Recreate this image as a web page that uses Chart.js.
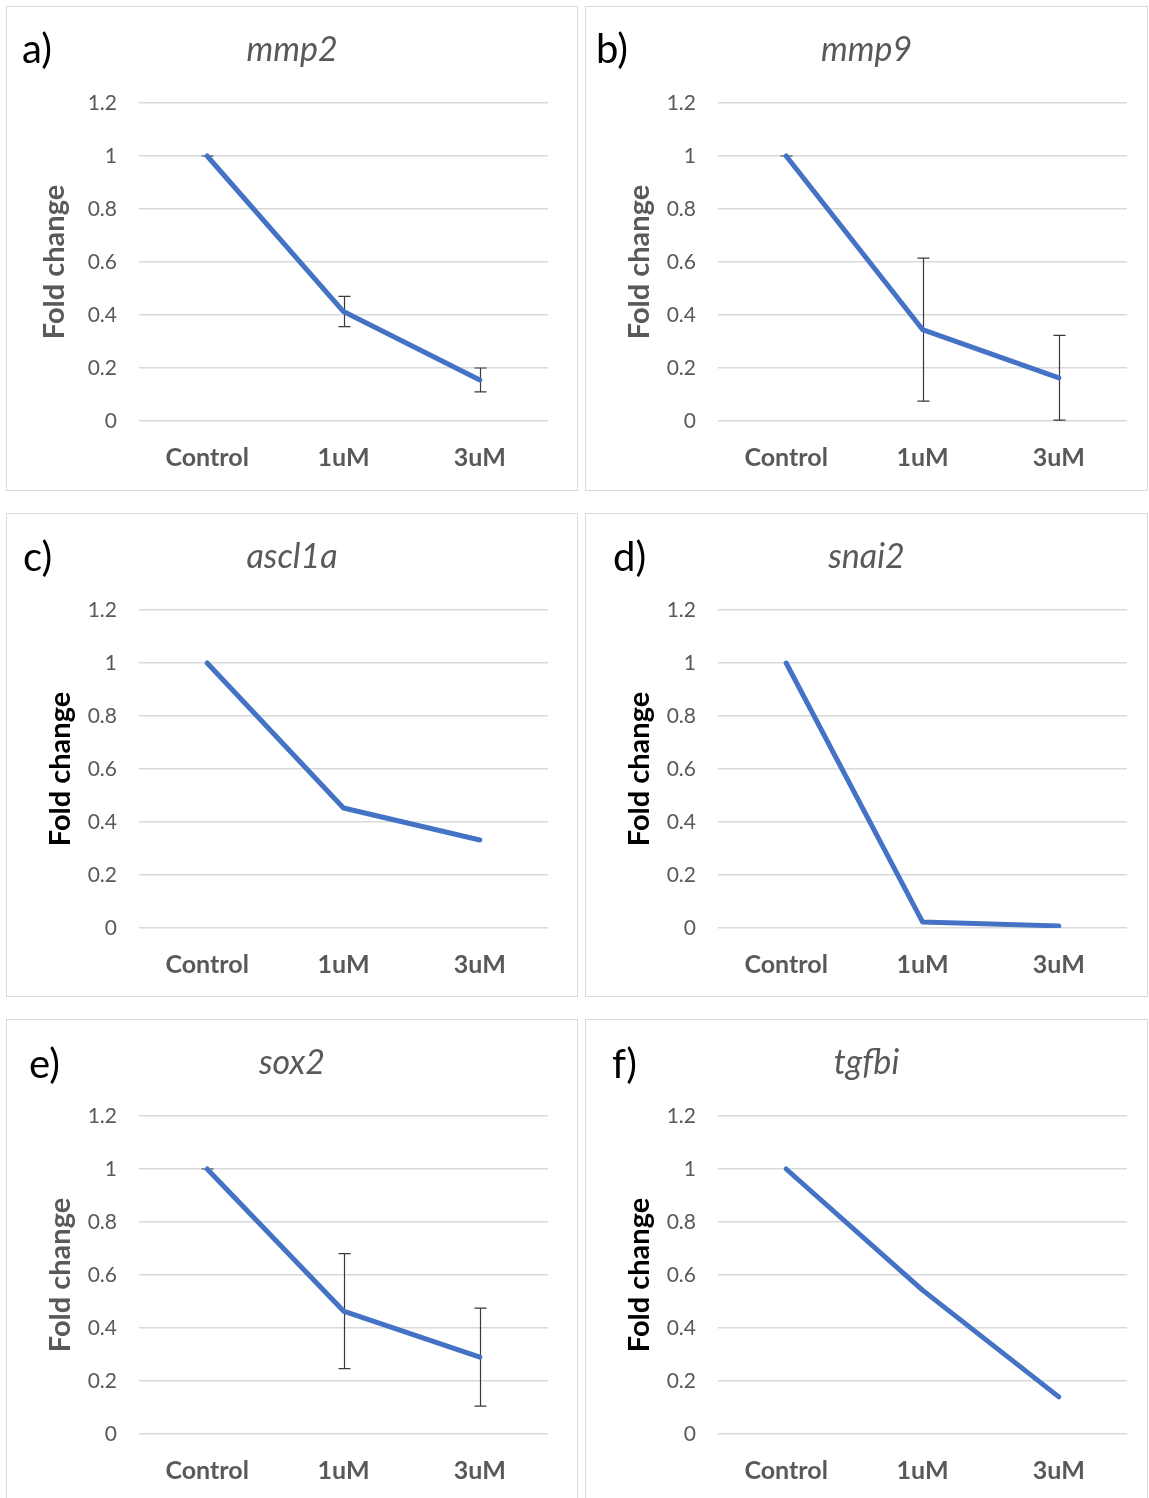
<!DOCTYPE html>
<html>
<head>
<meta charset="utf-8">
<script src="https://cdn.jsdelivr.net/npm/chart.js@4"></script>
<style>
  html, body { margin: 0; padding: 0; background: #fff; overflow: hidden; }
  body { width: 1149px; height: 1498px; position: relative; font-family: Lato, "Open Sans", sans-serif; }
  .frame { position: absolute; border: 1.5px solid #d9d9d9; box-sizing: border-box; pointer-events: none; }
  canvas { position: absolute; }
  .tag { position: absolute; font-size: 40px; color: #000; line-height: 1; }
</style>
</head>
<body>
<script>
const categories = ["Control", "1uM", "3uM"];
const genes = ["mmp2", "mmp9", "ascl1a", "snai2", "sox2", "tgfbi"];
const tags = ["a)", "b)", "c)", "d)", "e)", "f)"];

const mmp2 = [1, 0.413, 0.155];
const mmp2Err = [0, 0.057, 0.045];
const mmp9 = [1, 0.345, 0.163];
const mmp9Err = [0, 0.27, 0.16];
const ascl1a = [1, 0.453, 0.332];
const snai2 = [1, 0.023, 0.008];
const sox2 = [1, 0.464, 0.29];
const sox2Err = [0, 0.217, 0.185];
const tgfbi = [1, 0.543, 0.14];

const yMin = 0, yMax = 1.2, yStep = 0.2;

const series = [mmp2, mmp9, ascl1a, snai2, sox2, tgfbi];
const errors = [mmp2Err, mmp9Err, null, null, sox2Err, null];

// panel boxes: left, top, width, height, tag offset, y-title offset and colour
const panels = [
  { x: 6,   y: 6,    w: 572, h: 485, tx: 16, ty: 22, yo: 49, yc: "#595959" },
  { x: 585, y: 6,    w: 563, h: 485, tx: 11, ty: 22, yo: 55, yc: "#595959" },
  { x: 6,   y: 513,  w: 572, h: 484, tx: 17, ty: 23, yo: 55, yc: "#000" },
  { x: 585, y: 513,  w: 563, h: 484, tx: 28, ty: 23, yo: 55, yc: "#000" },
  { x: 6,   y: 1019, w: 572, h: 485, tx: 23, ty: 24, yo: 55, yc: "#595959" },
  { x: 585, y: 1019, w: 563, h: 485, tx: 27, ty: 24, yo: 55, yc: "#000" }
];

const errorBars = {
  id: "errorBars",
  beforeDatasetsDraw(chart, args, opts) {
    const err = opts.values;
    if (!err) return;
    const { ctx } = chart;
    const xs = chart.scales.x, ys = chart.scales.y;
    const vals = chart.data.datasets[0].data;
    ctx.save();
    ctx.strokeStyle = "#3a3a3a";
    ctx.lineWidth = 1.2;
    err.forEach((e, i) => {
      const px = Math.round(xs.getPixelForValue(i)) + 0.5;
      const top = ys.getPixelForValue(vals[i] + e);
      const bot = ys.getPixelForValue(vals[i] - e);
      ctx.beginPath();
      ctx.moveTo(px, top); ctx.lineTo(px, bot);
      ctx.moveTo(px - 6, top); ctx.lineTo(px + 6, top);
      ctx.moveTo(px - 6, bot); ctx.lineTo(px + 6, bot);
      ctx.stroke();
    });
    ctx.restore();
  }
};

panels.forEach((p, i) => {
  const cv = document.createElement("canvas");
  cv.width = p.w; cv.height = p.h;
  cv.style.left = p.x + "px"; cv.style.top = p.y + "px";
  cv.style.width = p.w + "px"; cv.style.height = p.h + "px";
  document.body.appendChild(cv);

  const fr = document.createElement("div");
  fr.className = "frame";
  fr.style.left = p.x + "px"; fr.style.top = p.y + "px";
  fr.style.width = p.w + "px"; fr.style.height = p.h + "px";
  document.body.appendChild(fr);

  const tg = document.createElement("div");
  tg.className = "tag";
  tg.textContent = tags[i];
  tg.style.left = (p.x + p.tx) + "px"; tg.style.top = (p.y + p.ty) + "px";
  document.body.appendChild(tg);

  new Chart(cv, {
    type: "line",
    data: {
      labels: categories,
      datasets: [{
        data: series[i],
        borderColor: "#4472C4",
        borderWidth: 5,
        pointRadius: 0,
        borderCapStyle: "round",
        borderJoinStyle: "round",
        tension: 0
      }]
    },
    plugins: [errorBars],
    options: {
      responsive: false,
      animation: false,
      devicePixelRatio: 1,
      plugins: {
        legend: { display: false },
        tooltip: { enabled: false },
        errorBars: { values: errors[i] },
        title: {
          display: true,
          text: genes[i],
          color: "#595959",
          font: { family: "Lato", size: 34, style: "italic", weight: "normal" },
          padding: { top: 24, bottom: 32.2 }
        }
      },
      scales: {
        x: {
          offset: true,
          grid: { display: false, drawTicks: false },
          border: { display: false },
          ticks: { color: "#595959", padding: 22, font: { family: "Lato", size: 25, weight: "bold" } },
          afterFit: s => { s.height = p.h - 415; }
        },
        y: {
          min: yMin, max: yMax,
          ticks: {
            stepSize: yStep,
            color: "#595959",
            padding: 22,
            font: { family: "Lato", size: 21 },
            callback: v => String(Math.round(v * 10) / 10)
          },
          grid: { color: "#d9d9d9", lineWidth: 1.5, drawTicks: false },
          border: { display: false },
          title: {
            display: true,
            text: "Fold change",
            color: p.yc,
            font: { family: "Lato", size: 29, weight: "bold" },
            padding: { top: p.yo - 17.4, bottom: 0 }
          },
          afterFit: s => { s.width = 133; }
        },
        // empty right-hand margin so the title centres on the whole panel
        pad: {
          position: "right",
          display: true,
          ticks: { display: false },
          grid: { display: false, drawTicks: false },
          border: { display: false },
          afterFit: s => { s.width = p.w - 542; }
        }
      }
    }
  });
});
</script>
</body>
</html>
